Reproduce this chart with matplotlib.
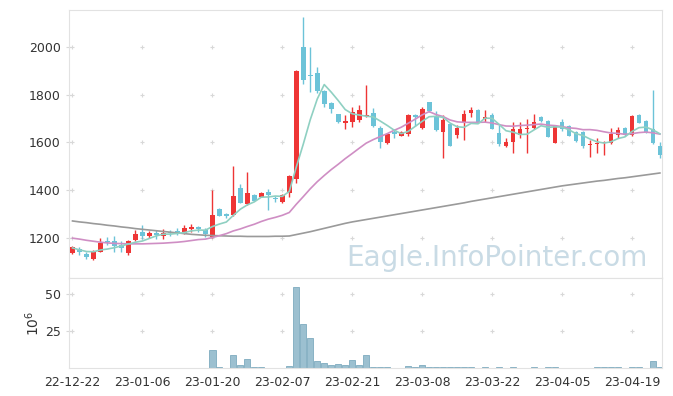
import matplotlib
matplotlib.use('Agg')
import matplotlib.pyplot as plt
import numpy as np
import pandas as pd

# daily candles (Korean trading days)
tick_labels = ['22-12-22', '23-01-06', '23-01-20', '23-02-07', '23-02-21',
               '23-03-08', '23-03-22', '23-04-05', '23-04-19']
opens = [1136, 1154, 1133, 1111, 1143, 1189, 1185, 1171, 1136, 1190,
         1224, 1210, 1219, 1210, 1224, 1229, 1222, 1238, 1246, 1233,
         1203, 1321, 1299, 1296, 1408, 1342, 1381, 1372, 1392, 1368,
         1352, 1389, 1445, 2000, 1883, 1892, 1815, 1767, 1718, 1683,
         1686, 1692, 1711, 1722, 1662, 1599, 1642, 1629, 1634, 1716,
         1662, 1768, 1705, 1645, 1676, 1632, 1681, 1723, 1736, 1699,
         1715, 1639, 1585, 1600, 1632, 1655, 1660, 1707, 1690, 1599,
         1685, 1668, 1644, 1645, 1590, 1593, 1598, 1597, 1631, 1662,
         1630, 1715, 1690, 1657, 1585]
highs = [1166, 1161, 1141, 1150, 1199, 1205, 1208, 1187, 1190, 1235,
         1255, 1227, 1233, 1236, 1234, 1241, 1254, 1257, 1250, 1241,
         1400, 1325, 1303, 1502, 1425, 1475, 1385, 1393, 1405, 1374,
         1382, 1462, 1902, 2127, 1998, 1915, 1818, 1770, 1720, 1713,
         1750, 1755, 1840, 1743, 1668, 1640, 1655, 1648, 1718, 1720,
         1748, 1770, 1732, 1715, 1680, 1672, 1736, 1750, 1740, 1736,
         1722, 1675, 1620, 1686, 1686, 1699, 1720, 1712, 1692, 1670,
         1698, 1672, 1648, 1647, 1610, 1618, 1605, 1660, 1666, 1666,
         1713, 1721, 1694, 1820, 1603]
lows = [1132, 1128, 1112, 1108, 1140, 1171, 1143, 1140, 1130, 1187,
        1195, 1200, 1196, 1196, 1210, 1211, 1218, 1226, 1226, 1203,
        1198, 1290, 1285, 1292, 1345, 1338, 1354, 1370, 1315, 1352,
        1348, 1370, 1430, 1845, 1813, 1808, 1747, 1723, 1680, 1655,
        1663, 1685, 1708, 1665, 1576, 1595, 1618, 1625, 1628, 1667,
        1658, 1728, 1650, 1535, 1586, 1620, 1610, 1708, 1684, 1687,
        1655, 1584, 1582, 1556, 1620, 1556, 1655, 1686, 1622, 1596,
        1650, 1625, 1603, 1577, 1541, 1555, 1548, 1592, 1618, 1626,
        1628, 1680, 1640, 1592, 1536]
closes = [1161, 1140, 1119, 1147, 1180, 1181, 1168, 1157, 1186, 1217,
          1207, 1222, 1212, 1220, 1219, 1221, 1240, 1247, 1237, 1217,
          1296, 1293, 1290, 1376, 1346, 1387, 1356, 1389, 1380, 1365,
          1380, 1459, 1900, 1860, 1877, 1814, 1762, 1741, 1684, 1688,
          1726, 1735, 1717, 1670, 1601, 1634, 1635, 1645, 1715, 1707,
          1740, 1732, 1653, 1694, 1587, 1662, 1721, 1735, 1686, 1706,
          1657, 1595, 1601, 1657, 1657, 1662, 1686, 1688, 1624, 1667,
          1657, 1629, 1607, 1585, 1594, 1599, 1602, 1634, 1652, 1630,
          1711, 1683, 1645, 1596, 1546]
volume = [0.1] * 20 + [
    12, 1, 0.2, 8.5, 2, 6, 1, 1, 0.2, 0.2,
    0.3, 1.5, 55, 30, 20.5, 5, 3.5, 2, 2.8, 2,
    5.5, 2, 8.5, 1, 1, 1, 0.1, 0.1, 1.5, 1,
    1.8, 1, 1, 1, 1, 1, 1, 1, 0.1, 0.8,
    0.1, 0.8, 0.1, 0.8, 0.1, 0.1, 0.8, 0.1, 0.8, 0.8,
    0.1, 0.1, 0.1, 0.1, 0.1, 0.8, 0.8, 0.8, 0.8, 0.1,
    0.8, 0.8, 0.1, 5, 1]
# start of the moving averages (history before the window is not shown)
ma5_head = [1158, 1150, 1143, 1142]
ma20_head = [1199, 1195, 1190, 1186, 1182, 1179, 1177, 1176, 1175, 1175,
             1175, 1176, 1177, 1178, 1180, 1182, 1185, 1189, 1193]
ma60 = [1271, 1267, 1264, 1260, 1257, 1253, 1250, 1246, 1243, 1239,
        1236, 1233, 1230, 1227, 1224, 1221, 1218, 1215, 1213, 1211,
        1210, 1209, 1208, 1207, 1207, 1206, 1206, 1206, 1206, 1207,
        1207, 1208, 1214, 1220, 1226, 1233, 1240, 1247, 1254, 1261,
        1267, 1272, 1277, 1282, 1287, 1292, 1297, 1302, 1307, 1312,
        1317, 1322, 1327, 1332, 1337, 1342, 1347, 1353, 1358, 1363,
        1368, 1373, 1378, 1383, 1388, 1393, 1398, 1403, 1408, 1413,
        1418, 1422, 1426, 1430, 1434, 1438, 1441, 1445, 1449, 1452,
        1456, 1460, 1464, 1468, 1472]

df = pd.DataFrame({'o': opens, 'h': highs, 'l': lows, 'c': closes, 'v': volume})
x = np.arange(len(df))
ma5 = df['c'].rolling(5).mean().values
ma5[:4] = ma5_head
ma20 = df['c'].rolling(20).mean().values
ma20[:19] = ma20_head

up = df['c'] >= df['o']
red = '#ee3535'
blue = '#6cc3d8'
grid_c = '#d8d8d8'

fig = plt.figure(figsize=(6.73, 3.96), dpi=100)
ax = fig.add_axes([69/673, 1-278/396, (662-69)/673, (278-10)/396])
axv = fig.add_axes([69/673, 1-368/396, (662-69)/673, (368-278)/396], sharex=ax)

# candles
cols = np.where(up, red, blue)
ax.vlines(x, df['l'], df['h'], colors=cols, linewidth=1.0, zorder=2)
ax.bar(x, (df['c'] - df['o']).abs().clip(lower=2), bottom=df[['o', 'c']].min(axis=1),
       width=0.68, color=cols, linewidth=0, zorder=3)

ax.plot(x, ma60, color='#9a9a9a', lw=1.2, zorder=4)
ax.plot(x, ma20, color='#cf8ec4', lw=1.2, zorder=4)
ax.plot(x, ma5, color='#8fd0c2', lw=1.2, zorder=4)

ax.text(0.722, 0.075, 'Eagle.InfoPointer.com', transform=ax.transAxes,
        ha='center', va='center', fontsize=20, color='#c9dbe5', zorder=1)

# volume
axv.bar(x, df['v'], width=0.9, color='#9cc0d0', edgecolor='#7eabbf', linewidth=0.6)

xt = np.arange(0, 81, 10)
ax.set_xlim(-0.5, 84.3)
ax.set_ylim(1032, 2155)
axv.set_ylim(0, 60.8)
ax.set_yticks([1200, 1400, 1600, 1800, 2000])
axv.set_yticks([25, 50])
axv.set_xticks(xt)
axv.set_xticklabels(tick_labels)
axv.set_ylabel(r'$10^6$', fontsize=10, color='#333333', labelpad=2)

for a, yt in ((ax, [1200, 1400, 1600, 1800, 2000]), (axv, [25, 50])):
    gx, gy = np.meshgrid(xt, yt)
    a.scatter(gx.ravel(), gy.ravel(), marker='+', s=12, color=grid_c, linewidths=0.8, zorder=0)
    for s in a.spines.values():
        s.set_color('#e2e2e2')
    a.tick_params(colors=grid_c, labelcolor='#333333', labelsize=9, direction='inout', length=5)
ax.tick_params(axis='x', labelbottom=False, length=0)
axv.tick_params(axis='x', length=0, pad=6)

fig.savefig('out.png', dpi=100)
